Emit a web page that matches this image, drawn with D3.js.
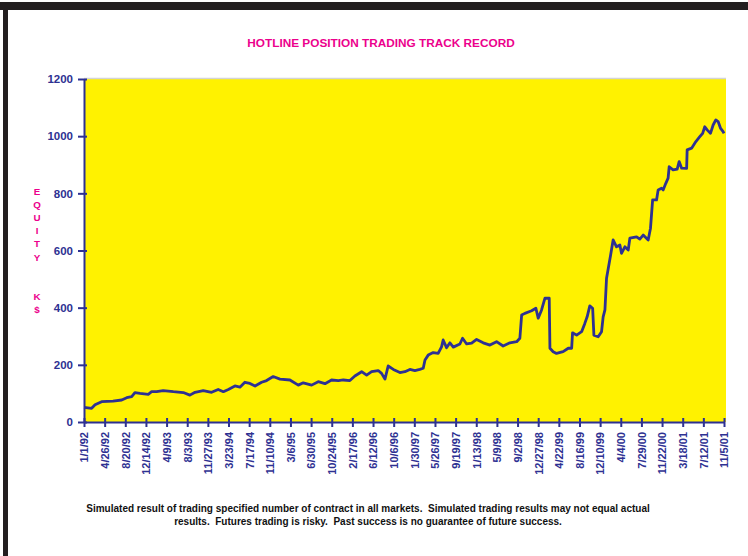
<!DOCTYPE html>
<html>
<head>
<meta charset="utf-8">
<script src="https://cdn.jsdelivr.net/npm/d3@7"></script>
<style>
  html, body { margin: 0; padding: 0; background: #fff; }
  svg { display: block; font-family: "Liberation Sans", Arial, sans-serif; }
</style>
</head>
<body>
<svg id="chart" width="748" height="556"></svg>
<script>
// ---- data ----
const title = "HOTLINE POSITION TRADING TRACK RECORD";
const yAxisLetters = ["E", "Q", "U", "I", "T", "Y", "", "", "K", "$"];
const yTicks = [0, 200, 400, 600, 800, 1000, 1200];
const xTickLabels = ["1/1/92","4/26/92","8/20/92","12/14/92","4/9/93","8/3/93","11/27/93","3/23/94",
  "7/17/94","11/10/94","3/6/95","6/30/95","10/24/95","2/17/96","6/12/96","10/6/96","1/30/97",
  "5/26/97","9/19/97","1/13/98","5/9/98","9/2/98","12/27/98","4/22/99","8/16/99","12/10/99",
  "4/4/00","7/29/00","11/22/00","3/18/01","7/12/01","11/5/01"];
const footnote = [
  "Simulated result of trading specified number of contract in all markets.  Simulated trading results may not equal actual",
  "results.  Futures trading is risky.  Past success is no guarantee of future success."
];
const dates = ["1992-01-01","1992-02-13","1992-03-03","1992-04-09","1992-06-12","1992-07-31","1992-08-28",
  "1992-09-25","1992-10-13","1992-11-11","1992-12-27","1993-01-15","1993-02-12","1993-03-21","1993-05-17",
  "1993-07-12","1993-08-18","1993-09-16","1993-11-01","1993-12-18","1994-01-24","1994-02-22","1994-03-22",
  "1994-04-28","1994-05-26","1994-06-23","1994-07-21","1994-08-19","1994-09-25","1994-10-23","1994-11-29",
  "1995-01-06","1995-03-03","1995-04-19","1995-05-17","1995-07-03","1995-08-09","1995-09-16","1995-10-23",
  "1995-11-30","1995-12-28","1996-02-03","1996-03-02","1996-04-09","1996-05-07","1996-06-04","1996-07-11",
  "1996-07-30","1996-08-18","1996-09-05","1996-10-04","1996-11-10","1996-12-08","1997-01-05","1997-02-02",
  "1997-03-02","1997-03-21","1997-03-31","1997-04-18","1997-05-16","1997-06-13","1997-07-02","1997-07-11",
  "1997-07-30","1997-08-18","1997-09-06","1997-10-13","1997-10-28","1997-11-20","1997-12-18","1998-01-15",
  "1998-02-21","1998-03-31","1998-05-07","1998-06-13","1998-07-21","1998-08-28","1998-09-15","1998-09-25",
  "1998-10-13","1998-11-20","1998-12-14","1998-12-27","1999-01-15","1999-02-03","1999-02-27","1999-03-03",
  "1999-03-21","1999-04-09","1999-05-16","1999-06-14","1999-07-03","1999-07-08","1999-07-31","1999-08-28",
  "1999-09-15","1999-09-28","1999-10-13","1999-10-29","1999-11-05","1999-11-29","1999-12-18","1999-12-27",
  "2000-01-06","2000-01-15","2000-02-07","2000-02-21","2000-03-11","2000-03-30","2000-04-08","2000-04-27",
  "2000-05-16","2000-05-25","2000-07-02","2000-07-20","2000-08-08","2000-09-05","2000-09-18","2000-09-30",
  "2000-10-22","2000-10-31","2000-11-19","2000-11-28","2000-12-13","2000-12-26","2001-01-01","2001-01-23",
  "2001-02-15","2001-02-26","2001-03-12","2001-04-09","2001-04-12","2001-05-07","2001-05-31","2001-06-22",
  "2001-07-08","2001-07-20","2001-08-02","2001-08-21","2001-09-05","2001-09-20","2001-10-03","2001-10-17",
  "2001-10-31","2001-11-05"];
const equity = [51,48,60,71,73,77,85,89,103,100,97,106,106,110,106,103,94,104,110,104,114,106,114,
  126,122,139,135,126,139,145,159,150,147,129,137,129,141,134,147,145,147,145,161,176,164,176,180,
  170,150,196,184,173,176,184,180,184,188,217,234,243,240,263,287,260,277,262,273,293,273,276,289,
  277,269,281,266,277,281,293,374,380,389,398,363,392,433,433,258,246,240,246,258,258,312,304,316,
  345,368,406,398,304,298,316,368,392,503,584,637,613,619,590,613,602,643,648,640,654,637,678,777,
  777,812,818,812,835,853,893,882,885,911,888,887,952,958,981,998,1010,1033,1022,1010,1039,1057,
  1051,1027,1016,1010];

// ---- drawing ----
const navy = "#2e3192", magenta = "#ec008c", yellow = "#fff200";
const svg = d3.select("#chart");
const parseTick = d3.timeParse("%m/%d/%y");
const parseDate = d3.timeParse("%Y-%m-%d");
const tickDates = xTickLabels.map(parseTick);
const series = dates.map((d, i) => ({ date: parseDate(d), v: equity[i] }));

const plotL = 84, plotR = 724, plotT = 79, plotB = 422;
const x = d3.scaleTime().domain([tickDates[0], tickDates[tickDates.length - 1]]).range([plotL, plotR]);
const y = d3.scaleLinear().domain([0, 1200]).range([plotB, plotT]);

// frame
svg.append("rect").attr("x", 0).attr("y", 2).attr("width", 748).attr("height", 8).attr("fill", "#231f20");
svg.append("rect").attr("x", 3).attr("y", 2).attr("width", 5).attr("height", 554).attr("fill", "#231f20");

// plot background
svg.append("rect").attr("x", plotL).attr("y", plotT).attr("width", 726 - plotL).attr("height", plotB - plotT)
  .attr("fill", yellow);
svg.append("line").attr("x1", plotL).attr("x2", 726).attr("y1", plotT - 0.5).attr("y2", plotT - 0.5)
  .attr("stroke", "#d4d4d4").attr("stroke-width", 1.5);

// title
svg.append("text").attr("x", 381).attr("y", 47).attr("text-anchor", "middle")
  .attr("fill", magenta).attr("font-weight", "bold").attr("font-size", 11.8).text(title);

// y axis title letters
svg.append("g").selectAll("text").data(yAxisLetters).join("text")
  .attr("x", 37).attr("y", (d, i) => 195 + i * 13.1).attr("text-anchor", "middle")
  .attr("fill", magenta).attr("font-weight", "bold").attr("font-size", 9.8).text(d => d);

// line
const line = d3.line().x(d => x(d.date)).y(d => y(d.v));
svg.append("path").datum(series).attr("d", line).attr("fill", "none")
  .attr("stroke", navy).attr("stroke-width", 2.8).attr("stroke-linejoin", "round");

// y axis
const gy = svg.append("g").attr("transform", `translate(${plotL},0)`)
  .call(d3.axisLeft(y).tickValues(yTicks).tickFormat(d3.format("d"))
    .tickSize(6).tickPadding(5).tickSizeOuter(0));
gy.select(".domain").attr("stroke", navy).attr("stroke-width", 2);
gy.selectAll(".tick line").attr("stroke", navy).attr("stroke-width", 2).attr("x1", 3);
gy.selectAll(".tick text").attr("fill", navy).attr("font-weight", "bold").attr("font-size", 11.5)
  .attr("font-family", "Liberation Sans, Arial, sans-serif");

// x axis
const gx = svg.append("g").attr("transform", `translate(0,${plotB})`)
  .call(d3.axisBottom(x).tickValues(tickDates).tickFormat((d, i) => xTickLabels[i])
    .tickSize(5).tickSizeOuter(0));
gx.select(".domain").attr("stroke", navy).attr("stroke-width", 2.2);
gx.selectAll(".tick line").attr("stroke", navy).attr("stroke-width", 2).attr("y1", -4);
gx.selectAll(".tick text").attr("fill", navy).attr("font-weight", "bold").attr("font-size", 11)
  .attr("font-family", "Liberation Sans, Arial, sans-serif")
  .attr("transform", "rotate(-90)").attr("x", -10).attr("y", 0).attr("dy", "0.35em")
  .style("text-anchor", "end");

// footnote
svg.append("g").selectAll("text").data(footnote).join("text")
  .attr("x", 368).attr("y", (d, i) => 512 + i * 13).attr("text-anchor", "middle")
  .style("white-space", "pre")
  .attr("fill", "#111").attr("font-weight", "bold").attr("font-size", 10).text(d => d);
</script>
</body>
</html>
